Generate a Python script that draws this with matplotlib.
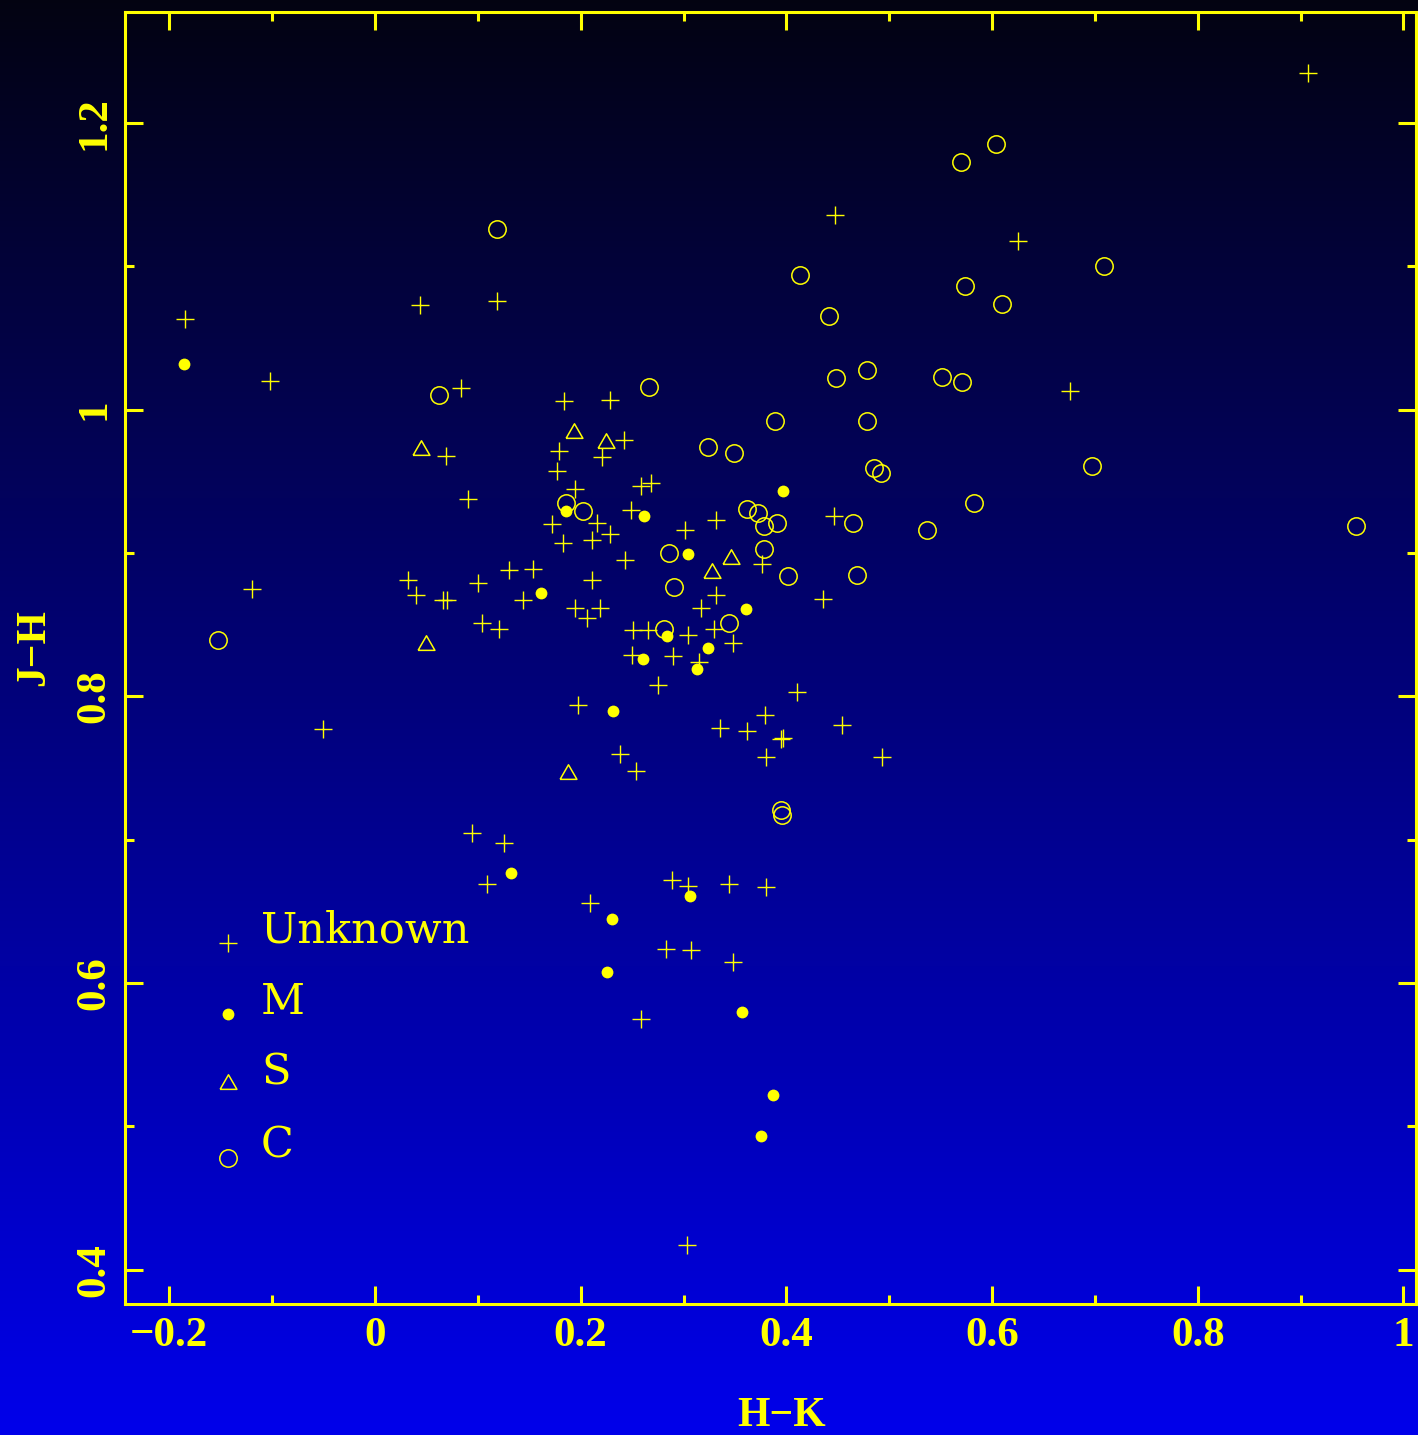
import matplotlib.pyplot as plt
import numpy as np

# colour-colour data
unknown_hk = [-0.185, -0.102, 0.044, 0.119, 0.084, 0.447, 0.907, 0.625, 0.676, 0.184,
              0.228, 0.242, 0.069, 0.090, 0.179, 0.221, 0.177, 0.259, 0.268, 0.194,
              0.249, 0.332, 0.446, 0.172, 0.216, 0.183, 0.211, 0.228, 0.301, 0.376,
              0.243, -0.120, 0.032, 0.040, 0.066, 0.070, 0.100, 0.130, 0.154, 0.144,
              0.104, 0.121, 0.436, 0.211, 0.332, 0.194, 0.206, 0.219, 0.317, 0.251,
              0.265, 0.304, 0.330, 0.348, 0.250, 0.290, 0.315, 0.275, 0.197, 0.410,
              0.379, 0.335, 0.362, 0.395, 0.397, 0.454, 0.380, 0.493, 0.238, 0.254,
              -0.051, 0.094, 0.125, 0.109, 0.289, 0.304, 0.344, 0.380, 0.209, 0.283,
              0.307, 0.348, 0.259, 0.303]
unknown_jh = [1.063, 1.020, 1.073, 1.076, 1.015, 1.136, 1.235, 1.118, 1.013, 1.006,
              1.007, 0.979, 0.968, 0.938, 0.971, 0.967, 0.957, 0.947, 0.949, 0.945,
              0.930, 0.923, 0.926, 0.920, 0.921, 0.907, 0.909, 0.913, 0.916, 0.892,
              0.895, 0.875, 0.881, 0.871, 0.867, 0.867, 0.879, 0.888, 0.889, 0.867,
              0.851, 0.847, 0.868, 0.881, 0.871, 0.862, 0.855, 0.862, 0.862, 0.846,
              0.846, 0.843, 0.847, 0.837, 0.829, 0.828, 0.824, 0.808, 0.794, 0.803,
              0.787, 0.778, 0.776, 0.770, 0.771, 0.780, 0.758, 0.758, 0.760, 0.748,
              0.777, 0.705, 0.698, 0.669, 0.672, 0.668, 0.669, 0.667, 0.656, 0.624,
              0.623, 0.615, 0.575, 0.417]

m_hk = [-0.186, 0.397, 0.186, 0.262, 0.161, 0.304, 0.361, 0.284, 0.324, 0.261,
        0.313, 0.231, 0.132, 0.306, 0.230, 0.226, 0.357, 0.387, 0.375]
m_jh = [1.032, 0.943, 0.929, 0.926, 0.872, 0.899, 0.861, 0.842, 0.834, 0.826,
        0.819, 0.790, 0.677, 0.661, 0.645, 0.608, 0.580, 0.522, 0.493]

s_hk = [0.193, 0.225, 0.045, 0.346, 0.328, 0.050, 0.188]
s_jh = [0.984, 0.977, 0.972, 0.896, 0.886, 0.836, 0.746]

c_hk = [0.119, 0.062, 0.570, 0.604, 0.413, 0.574, 0.441, 0.448, 0.478, 0.551,
        0.571, 0.266, 0.389, 0.478, 0.709, 0.610, 0.324, 0.349, 0.485, 0.492,
        0.186, 0.202, 0.362, 0.372, 0.378, 0.391, 0.465, 0.537, 0.582, 0.286,
        0.378, 0.291, 0.402, 0.469, 0.344, 0.281, 0.395, 0.396, -0.153, 0.697,
        0.954]
c_jh = [1.126, 1.010, 1.173, 1.185, 1.094, 1.086, 1.065, 1.022, 1.028, 1.023,
        1.019, 1.016, 0.992, 0.992, 1.100, 1.074, 0.974, 0.970, 0.959, 0.956,
        0.935, 0.929, 0.931, 0.928, 0.919, 0.921, 0.921, 0.916, 0.935, 0.900,
        0.903, 0.876, 0.884, 0.885, 0.851, 0.847, 0.721, 0.717, 0.839, 0.961,
        0.919]

legend_names = ["Unknown", "M", "S", "C"]
x_ticks = [-0.2, 0, 0.2, 0.4, 0.6, 0.8, 1.0]
x_ticklabels = ["\u22120.2", "0", "0.2", "0.4", "0.6", "0.8", "1"]
y_ticks = [0.4, 0.6, 0.8, 1.0, 1.2]
y_ticklabels = ["0.4", "0.6", "0.8", "1", "1.2"]

YEL = "#ffff00"
tri = [(-1, -0.577), (1, -0.577), (0, 1.155), (-1, -0.577)]
styles = [
    dict(marker="+", ms=12.5, mew=1.0, color=YEL),
    dict(marker="o", ms=8.5, mew=0, color=YEL),
    dict(marker=tri, ms=14, mew=1.1, mfc="none", mec=YEL),
    dict(marker="o", ms=12.5, mew=1.1, mfc="none", mec=YEL),
]

fig = plt.figure(figsize=(14.18, 14.35), dpi=100)

# background gradient, dark at the top to blue at the bottom
bg = fig.add_axes([0, 0, 1, 1], zorder=-1)
t = np.linspace(0, 1, 512)[:, None, None]
top = np.array([0.012, 0.012, 0.07])
bottom = np.array([0.0, 0.0, 0.92])
bg.imshow(top + (bottom - top) * t, aspect="auto", extent=[0, 1, 0, 1], origin="upper")
bg.axis("off")

ax = fig.add_axes([124.5 / 1418, 131.5 / 1435, 1291 / 1418, 1291.5 / 1435])
ax.set_facecolor("none")

ax.plot(unknown_hk, unknown_jh, ls="none", **styles[0])
ax.plot(m_hk, m_jh, ls="none", **styles[1])
ax.plot(s_hk, s_jh, ls="none", **styles[2])
ax.plot(c_hk, c_jh, ls="none", **styles[3])

ax.set_xlim(-0.2436, 1.0117)
ax.set_ylim(0.3765, 1.2774)

for sp in ax.spines.values():
    sp.set_color(YEL)
    sp.set_linewidth(2.2)

ax.set_xticks(x_ticks)
ax.set_xticklabels(x_ticklabels)
ax.set_yticks(y_ticks)
ax.set_yticklabels(y_ticklabels, rotation=90, va="center")
ax.set_xticks(np.arange(-0.1, 1.01, 0.2), minor=True)
ax.set_yticks([0.5, 0.7, 0.9, 1.1], minor=True)
ax.tick_params(which="both", direction="in", top=True, right=True,
               color=YEL, width=2.2, labelcolor=YEL)
ax.tick_params(which="major", length=13)
ax.tick_params(which="minor", length=6.5)
ax.tick_params(axis="x", pad=10)
ax.tick_params(axis="y", pad=8)
for lab in ax.get_xticklabels() + ax.get_yticklabels():
    lab.set_family("Liberation Serif")
    lab.set_weight("bold")
    lab.set_size(31)

fig.text(781.5 / 1418, 1 - 1426 / 1435, "H\u2212K", ha="center", va="baseline",
         family="Liberation Serif", weight="bold", size=30, color=YEL)
fig.text(44 / 1418, 1 - 648 / 1435, "J\u2212H", rotation=90, rotation_mode="anchor",
         ha="center", va="baseline", family="Liberation Serif", weight="bold",
         size=30, color=YEL)

# legend drawn by hand, like the original
leg_y = [0.2794, 0.2239, 0.1697, 0.1129]
for name, st, y in zip(legend_names, styles, leg_y):
    ax.plot([0.0804], [y], transform=ax.transAxes, clip_on=False, ls="none", **st)
    ax.text(0.1057, y, name, transform=ax.transAxes, va="baseline", ha="left",
            family="DejaVu Serif", size=31, color=YEL)

fig.savefig("out.png", dpi=100)
